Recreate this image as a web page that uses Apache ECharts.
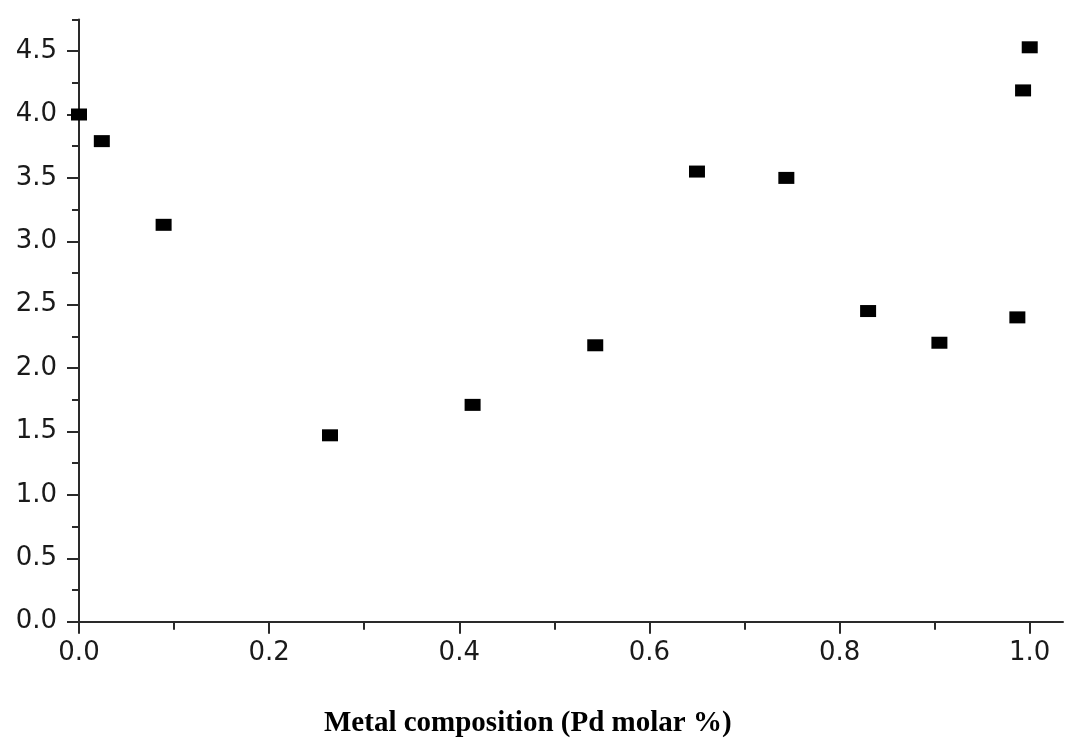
<!DOCTYPE html>
<html>
<head>
<meta charset="utf-8">
<script src="https://cdn.jsdelivr.net/npm/echarts@6/dist/echarts.min.js"></script>
<style>
html,body{margin:0;padding:0;background:#fff;}
#chart{width:1067px;height:740px;}
</style>
</head>
<body>
<div id="chart"></div>
<script>
// Data
const pdFraction = [0.0, 0.024, 0.089, 0.264, 0.414, 0.543, 0.650, 0.744, 0.830, 0.905, 0.987, 0.993, 1.0];
const yValues    = [4.00, 3.79, 3.13, 1.47, 1.71, 2.18, 3.55, 3.50, 2.45, 2.20, 2.40, 4.19, 4.53];

const xMajorTicks = [0, 0.2, 0.4, 0.6, 0.8, 1.0];
const xMinorTicks = [0.1, 0.3, 0.5, 0.7, 0.9];
const yMajorTicks = [0, 0.5, 1.0, 1.5, 2.0, 2.5, 3.0, 3.5, 4.0, 4.5];
const yMinorTicks = [0.25, 0.75, 1.25, 1.75, 2.25, 2.75, 3.25, 3.75, 4.25, 4.75];
const xAxisTitle = 'Metal composition (Pd molar %)';

const X_MIN = 0, X_MAX = 1.035, Y_MIN = 0, Y_MAX = 4.75;

const points = pdFraction.map((x, i) => [x, yValues[i]]);

const axisColor = '#2a2a2a';
const labelStyle = {
  fontFamily: 'DejaVu Sans',
  fontSize: 26,
  color: '#1a1a1a'
};

const chart = echarts.init(document.getElementById('chart'));
chart.setOption({
  animation: false,
  backgroundColor: '#ffffff',
  title: {
    text: xAxisTitle,
    left: 324,
    top: 709,
    padding: 0,
    textStyle: {
      fontFamily: 'Liberation Serif',
      fontWeight: 'bold',
      fontSize: 29,
      color: '#000'
    }
  },
  grid: {
    left: 79,
    right: 4,
    top: 19.4,
    bottom: 118.3,
    containLabel: false
  },
  xAxis: [
    {
      type: 'value',
      min: X_MIN,
      max: X_MAX,
      position: 'bottom',
      axisLine: { show: true, onZero: false, lineStyle: { color: axisColor, width: 2 } },
      axisTick: { show: true, customValues: xMajorTicks, length: 12, inside: false, lineStyle: { color: axisColor, width: 2 } },
      axisLabel: Object.assign({ customValues: xMajorTicks, margin: 19, formatter: v => v.toFixed(1) }, labelStyle),
      splitLine: { show: false }
    },
    {
      type: 'value',
      min: X_MIN,
      max: X_MAX,
      position: 'bottom',
      axisLine: { show: false, onZero: false },
      axisTick: { show: true, customValues: xMinorTicks, length: 8, inside: false, lineStyle: { color: axisColor, width: 2 } },
      axisLabel: { show: false },
      splitLine: { show: false }
    }
  ],
  yAxis: [
    {
      type: 'value',
      min: Y_MIN,
      max: Y_MAX,
      position: 'left',
      axisLine: { show: true, onZero: false, lineStyle: { color: axisColor, width: 2 } },
      axisTick: { show: true, customValues: yMajorTicks, length: 12, inside: false, lineStyle: { color: axisColor, width: 2 } },
      axisLabel: Object.assign({ customValues: yMajorTicks, margin: 22, formatter: v => v.toFixed(1) }, labelStyle),
      splitLine: { show: false }
    },
    {
      type: 'value',
      min: Y_MIN,
      max: Y_MAX,
      position: 'left',
      axisLine: { show: false, onZero: false },
      axisTick: { show: true, customValues: yMinorTicks, length: 7, inside: false, lineStyle: { color: axisColor, width: 2 } },
      axisLabel: { show: false },
      splitLine: { show: false }
    }
  ],
  series: [
    {
      type: 'scatter',
      xAxisIndex: 0,
      yAxisIndex: 0,
      data: points,
      symbol: 'rect',
      symbolSize: [16, 12],
      itemStyle: { color: '#000', opacity: 1 },
      clip: false
    }
  ]
});
</script>
</body>
</html>
